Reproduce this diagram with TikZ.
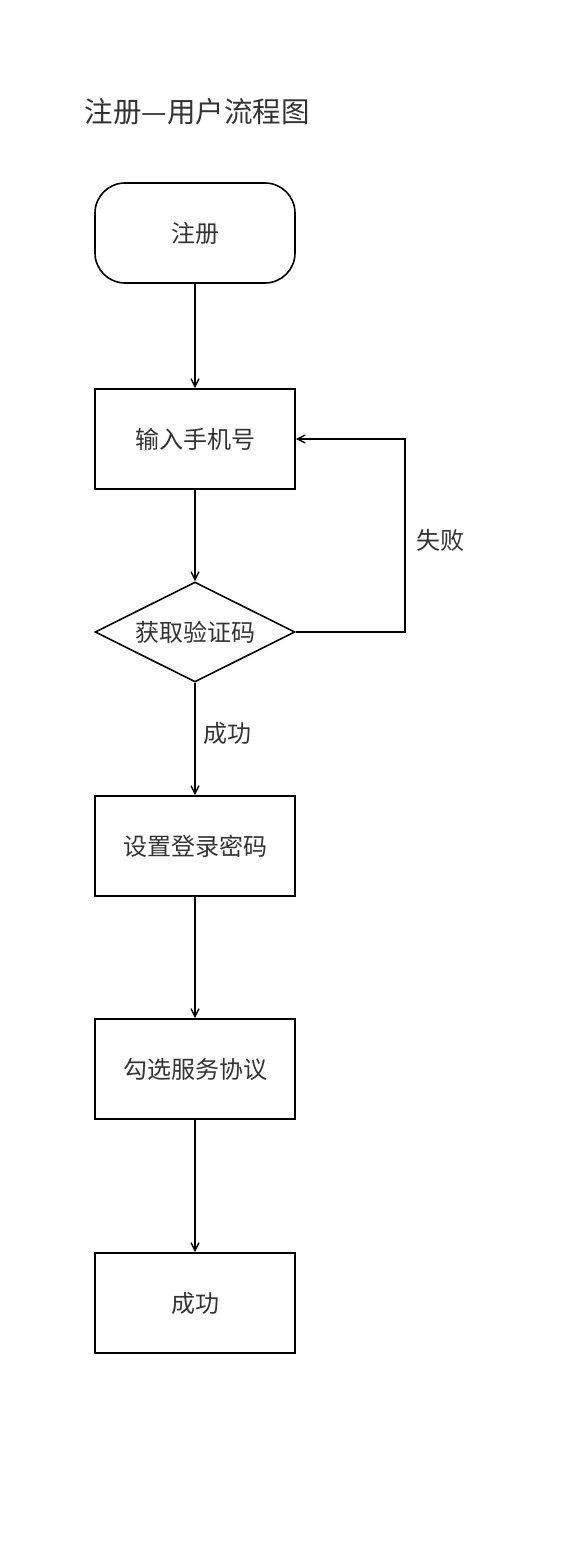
\documentclass[tikz,border=0pt]{standalone}
\usepackage{fontspec}
\setmainfont{Noto Sans CJK SC}
\usetikzlibrary{shapes.geometric,arrows.meta}
\definecolor{txt}{HTML}{333333}
\begin{document}
\begin{tikzpicture}[x=1pt,y=-1pt,
    every node/.style={text=txt,font=\fontsize{24}{28}\selectfont},
    stepbox/.style={draw,line width=1.6pt,minimum width=200pt,minimum height=100pt,inner sep=0pt},
    startbox/.style={stepbox,rounded corners=30pt},
    checkbox/.style={draw,line width=1.6pt,diamond,aspect=2,minimum width=200pt,minimum height=100pt,inner sep=0pt},
    arr/.style={line width=1.6pt,-{Straight Barb[length=8pt,width=8pt,line width=1.4pt]}}]
      \useasboundingbox (0,0) rectangle (560,1544);
      \node[anchor=west,font=\fontsize{28.5}{32}\selectfont] (title) at (81,112) {注册—用户流程图};
      \node[startbox] (start) at (195,233) {注册};
      \node[stepbox] (phone) at (195,439) {输入手机号};
      \node[checkbox] (code) at (195,632) {获取验证码};
      \node[stepbox] (pwd) at (195,846) {设置登录密码};
      \node[stepbox] (agree) at (195,1069) {勾选服务协议};
      \node[stepbox] (done) at (195,1303) {成功};
      \coordinate (loop) at (405,439);
      \draw[arr] (start) -- (phone);
      \draw[arr] (phone) -- (code);
      \draw[arr] (code.east) -| (loop) -- (phone.east);
      \node (fail) at (440,540) {失败};
      \draw[arr] (code) -- (pwd);
      \node (ok) at (227,733) {成功};
      \draw[arr] (pwd) -- (agree);
      \draw[arr] (agree) -- (done);
    \end{tikzpicture}
\end{document}
